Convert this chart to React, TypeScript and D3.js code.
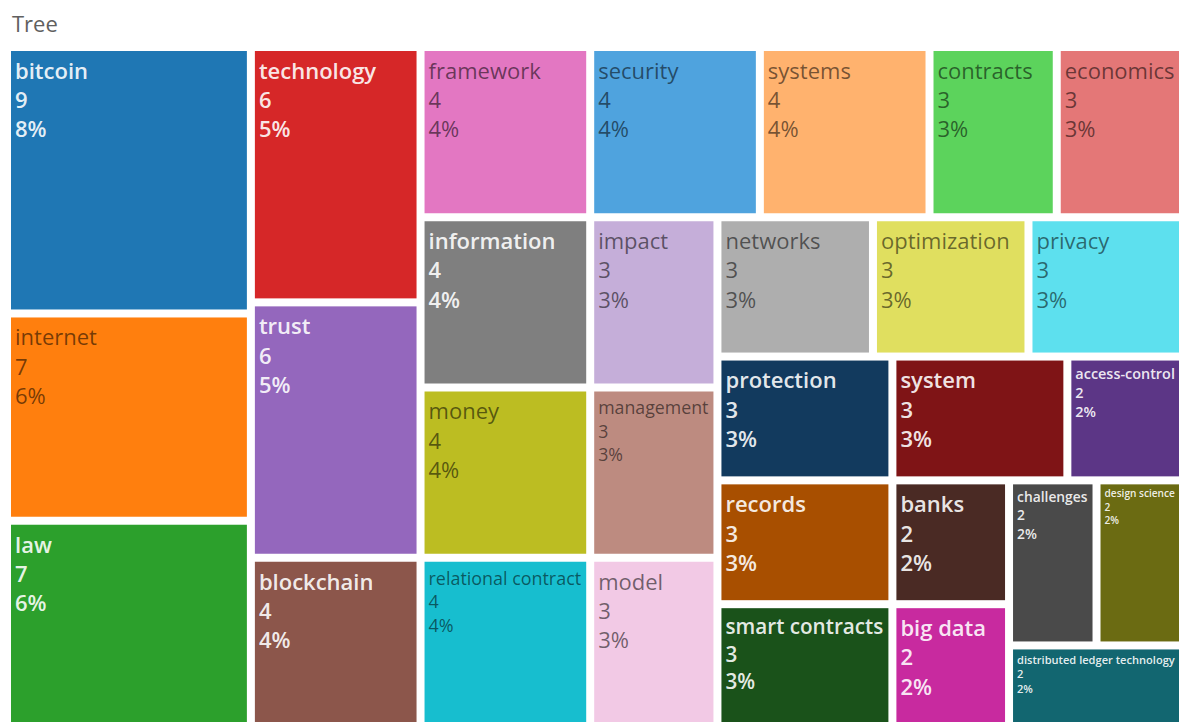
import React, { useRef, useEffect } from 'react';
import * as d3 from 'd3';

// keyword counts, in the order the colours are handed out
const keywords = [
  'bitcoin', 'internet', 'law', 'technology', 'trust', 'blockchain',
  'framework', 'information', 'money', 'relational contract',
  'security', 'systems', 'contracts', 'economics', 'impact', 'management',
  'model', 'networks', 'optimization', 'privacy',
  'protection', 'records', 'smart contracts', 'system', 'access-control',
  'banks', 'big data', 'challenges', 'design science', 'distributed ledger technology',
];
const counts = [
  9, 7, 7, 6, 6, 4,
  4, 4, 4, 4,
  4, 4, 3, 3, 3, 3,
  3, 3, 3, 3,
  3, 3, 3, 3, 2,
  2, 2, 2, 2, 2,
];
const colors = [
  '#1f77b4', '#ff7f0e', '#2ca02c', '#d62728', '#9467bd', '#8c564b', '#e377c2', '#7f7f7f', '#bcbd22', '#17becf',
  '#4fa3de', '#ffb26e', '#5cd35c', '#e47777', '#c5aed9', '#bd8b80', '#f2c9e5', '#aeaeae', '#e0df5f', '#5de0ee',
  '#123a5e', '#a84f00', '#1a521a', '#7f1416', '#5c3686', '#4a2a24', '#c82a9f', '#4a4a4a', '#6b6b12', '#126670',
];

// how the tiles are grouped: 'h' = side by side, 'v' = stacked
const tiling = ['h',
  ['v', 'bitcoin', 'internet', 'law'],
  ['v', 'technology', 'trust', 'blockchain'],
  ['v',
    ['h', 'framework', 'security', 'systems', 'contracts', 'economics'],
    ['h',
      ['v', ['h', 'information', 'impact'], ['h', 'money', 'management'], ['h', 'relational contract', 'model']],
      ['v',
        ['h', 'networks', 'optimization', 'privacy'],
        ['v',
          ['h', 'protection', 'system', 'access-control'],
          ['h',
            ['v', ['h', 'records', 'banks'], ['h', 'smart contracts', 'big data']],
            ['v', ['h', 'challenges', 'design science'], 'distributed ledger technology'],
          ],
        ],
      ],
    ],
  ],
];

const Treemap = () => {
  const d3Container = useRef(null);

  useEffect(() => {
    if (!d3Container.current) return;
    document.body.style.margin = '0';

    const width = 1179;
    const height = 722;
    const margin = { top: 51, left: 11 };
    const innerW = 1169;
    const innerH = 673;

    d3.select(d3Container.current).select('svg').remove();

    const svg = d3.select(d3Container.current)
      .append('svg')
      .attr('width', width)
      .attr('height', height)
      .style('display', 'block')
      .style('font-family', '"Open Sans", sans-serif');

    svg.append('text')
      .attr('x', 12)
      .attr('y', 32)
      .attr('font-size', 22)
      .attr('fill', '#606060')
      .text('Tree');

    const build = (b) => (typeof b === 'string'
      ? { name: b, value: counts[keywords.indexOf(b)] }
      : { dir: b[0], children: b.slice(1).map(build) });

    const root = d3.hierarchy(build(tiling)).sum(d => d.value || 0);
    const total = root.value;
    const color = d3.scaleOrdinal().domain(keywords).range(colors);

    d3.treemap()
      .size([innerW, innerH])
      .paddingInner(8)
      .tile((node, x0, y0, x1, y1) =>
        (node.data.dir === 'h' ? d3.treemapDice : d3.treemapSlice)(node, x0, y0, x1, y1))(root);

    const g = svg.append('g')
      .attr('transform', `translate(${margin.left},${margin.top})`);

    const cell = g.selectAll('g')
      .data(root.leaves())
      .join('g')
      .attr('transform', d => `translate(${d.x0},${d.y0})`);

    cell.append('rect')
      .attr('width', d => d.x1 - d.x0)
      .attr('height', d => d.y1 - d.y0)
      .attr('fill', d => color(d.data.name));

    // labels shrink to fit the tile width
    const base = 22;
    cell.each(function (d) {
      const c = color(d.data.name);
      const dark = d3.lab(c).l < 60;
      const lines = [d.data.name, `${d.value}`, `${Math.round((d.value / total) * 100)}%`];
      const t = d3.select(this).append('text')
        .attr('fill', dark ? '#fff' : '#000')
        .attr('fill-opacity', dark ? 0.9 : 0.55)
        .attr('font-weight', dark ? 600 : 400)
        .attr('font-size', base);
      const spans = t.selectAll('tspan').data(lines).join('tspan').attr('x', 4).text(s => s);
      let widest = 0;
      spans.each(function () { widest = Math.max(widest, this.getComputedTextLength()); });
      const avail = d.x1 - d.x0 - 9;
      const fs = Math.min(base, base * avail / widest);
      t.attr('font-size', fs);
      spans.attr('y', (s, i) => fs * 1.27 + i * fs * 1.33);
    });
  }, []);

  return <div ref={d3Container} />;
};

export default function App() {
  return <Treemap />;
}
